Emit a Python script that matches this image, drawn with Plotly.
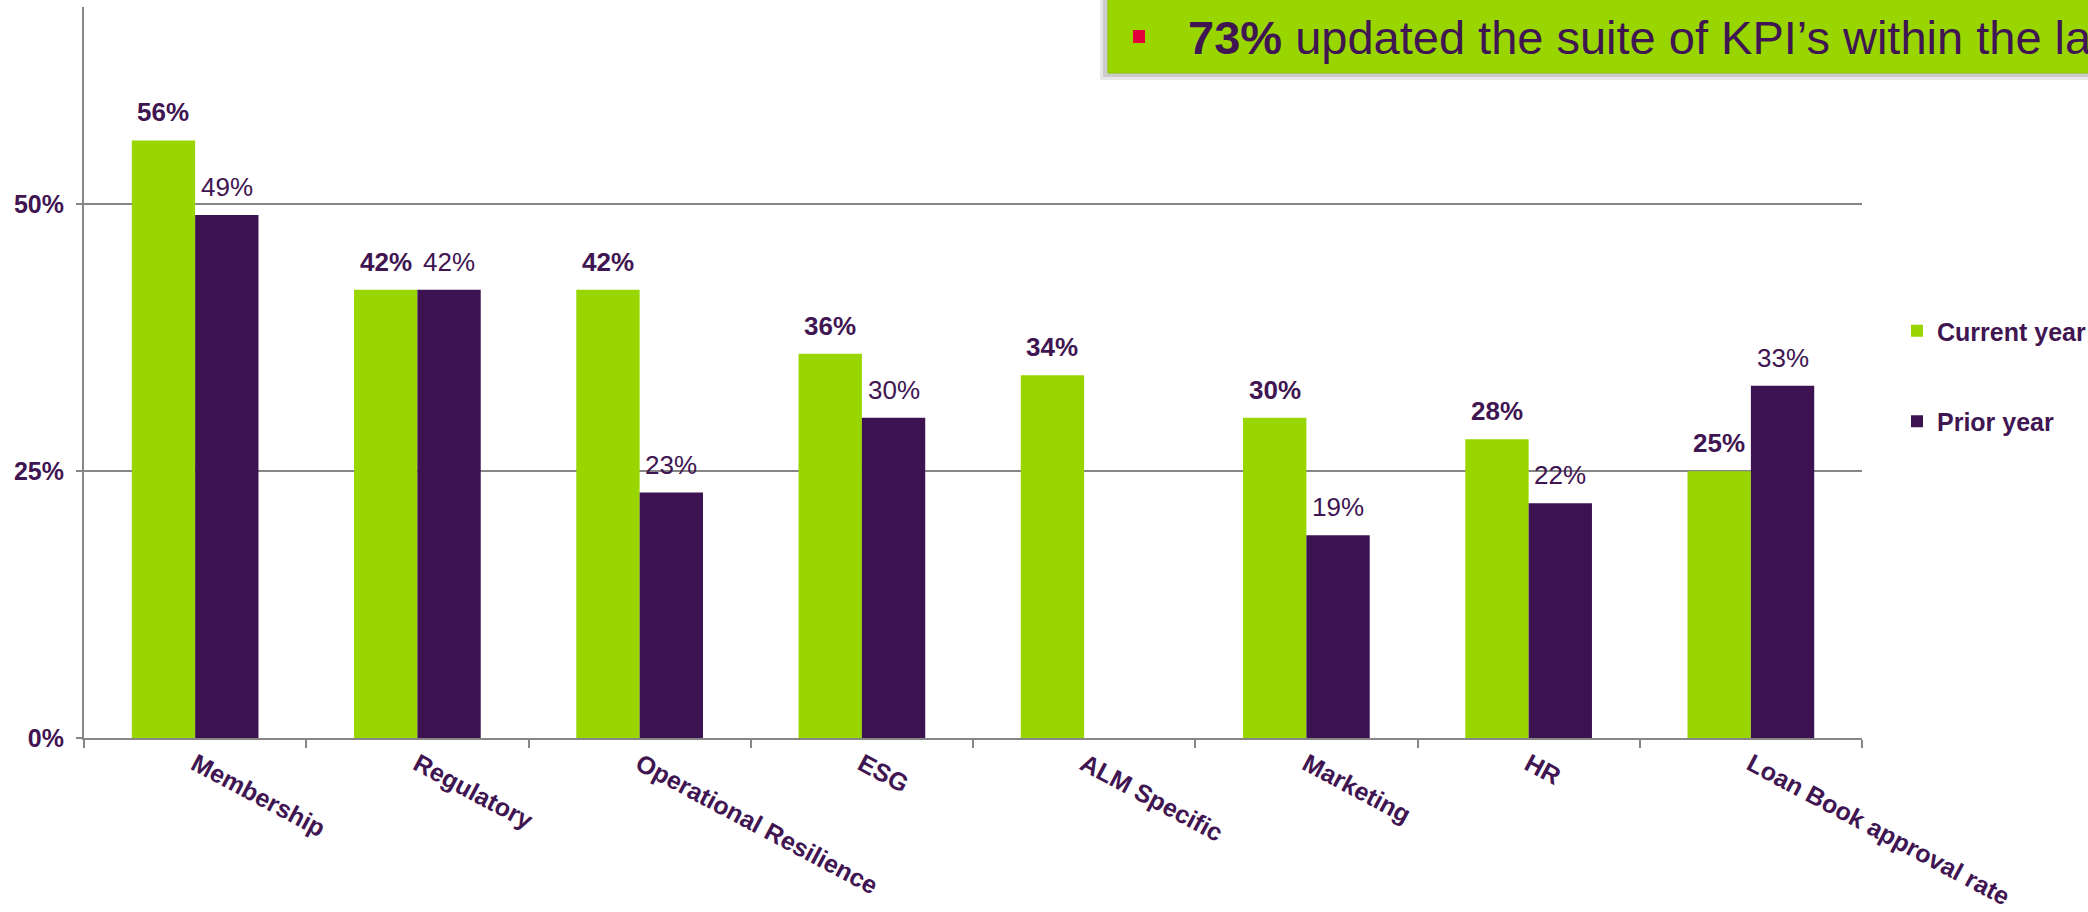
import plotly.graph_objects as go

# KPI areas and the share of respondents tracking them
categories = ["Membership", "Regulatory", "Operational Resilience", "ESG",
              "ALM Specific", "Marketing", "HR", "Loan Book approval rate"]
current_year = [56, 42, 42, 36, 34, 30, 28, 25]
prior_year = [49, 42, 23, 30, None, 19, 22, 33]
y_ticks = [0, 25, 50]
y_tick_labels = ["0%", "25%", "50%"]

GREEN = "#99D600"
PURPLE = "#3C1250"
TEXT = "#3F1552"
GRID = "#868686"
FONT = "Liberation Sans, Arial, sans-serif"

W, H = 2088, 912
ML, MR, MT, MB = 84, 226, 7, 174
PW, PH = W - ML - MR, H - MT - MB


def px_x(x):
    return (x - ML) / PW


def px_y(y):
    return (H - MB - y) / PH


fig = go.Figure()
fig.add_trace(go.Bar(name="Current year", x=categories, y=current_year,
                     marker=dict(color=GREEN, line=dict(width=0)),
                     legendgroup="a"))
fig.add_trace(go.Bar(name="Prior year", x=categories, y=prior_year,
                     marker=dict(color=PURPLE, line=dict(width=0)),
                     legendgroup="b"))

# value labels above each bar
bar_half = 0.5 * (1 - 0.43) / 2
annotations = []
for i, cat in enumerate(categories):
    for vals, shift, weight in ((current_year, -1, "bold"), (prior_year, 1, "normal")):
        v = vals[i]
        if v is None:
            continue
        annotations.append(dict(
            x=i + shift * bar_half, y=v, xref="x", yref="y",
            text=f"{v}%", showarrow=False, yanchor="bottom", yshift=11,
            font=dict(family=FONT, size=26, color=TEXT, weight=weight)))

# highlighted takeaway banner in the top right corner
bx0 = px_x(1108)
fig.add_shape(type="rect", xref="paper", yref="paper",
              x0=px_x(1100), x1=px_x(2100), y0=px_y(80), y1=px_y(-10),
              fillcolor="rgba(120,120,120,0.18)", line=dict(width=0), layer="above")
fig.add_shape(type="rect", xref="paper", yref="paper",
              x0=px_x(1103), x1=px_x(2100), y0=px_y(77), y1=px_y(-10),
              fillcolor="rgba(120,120,120,0.25)", line=dict(width=0), layer="above")
fig.add_shape(type="rect", xref="paper", yref="paper",
              x0=bx0, x1=px_x(2100), y0=px_y(73), y1=px_y(-10),
              fillcolor=GREEN, line=dict(color="#8CC400", width=1), layer="above")
fig.add_shape(type="rect", xref="paper", yref="paper",
              x0=px_x(1133), x1=px_x(1145), y0=px_y(43), y1=px_y(30),
              fillcolor="#E4003A", line=dict(width=0), layer="above")
annotations.append(dict(
    x=px_x(1186), y=px_y(37), xref="paper", yref="paper",
    xanchor="left", yanchor="middle", showarrow=False,
    text="<b>73%</b> updated the suite of KPI’s within the last year",
    font=dict(family=FONT, size=47, color=TEXT)))

fig.update_layout(
    width=W, height=H,
    margin=dict(l=ML, r=MR, t=MT, b=MB, autoexpand=False),
    paper_bgcolor="white", plot_bgcolor="white",
    barmode="group", bargap=0.43, bargroupgap=0,
    font=dict(family=FONT, color=TEXT),
    annotations=annotations,
    legend=dict(x=px_x(1897), y=px_y(308), xanchor="left", yanchor="top",
                font=dict(family=FONT, size=25, color=TEXT, weight="bold"),
                tracegroupgap=55, itemwidth=30, traceorder="grouped",
                bgcolor="rgba(0,0,0,0)"),
    showlegend=True,
)
fig.update_xaxes(
    showline=True, linecolor=GRID, linewidth=2,
    ticks="outside", tickson="boundaries", ticklen=8, tickcolor=GRID, tickwidth=2,
    tickangle=28, showgrid=False,
    tickfont=dict(family=FONT, size=25, color=TEXT, weight="bold"),
)
fig.update_yaxes(
    range=[0, 68.5], tickvals=y_ticks, ticktext=y_tick_labels,
    showline=True, linecolor=GRID, linewidth=2,
    ticks="outside", ticklen=6, tickcolor=GRID, tickwidth=2,
    ticklabelstandoff=7,
    showgrid=True, gridcolor=GRID, gridwidth=2, zeroline=False,
    tickfont=dict(family=FONT, size=25, color=TEXT, weight="bold"),
)

fig.write_html("out.html")
